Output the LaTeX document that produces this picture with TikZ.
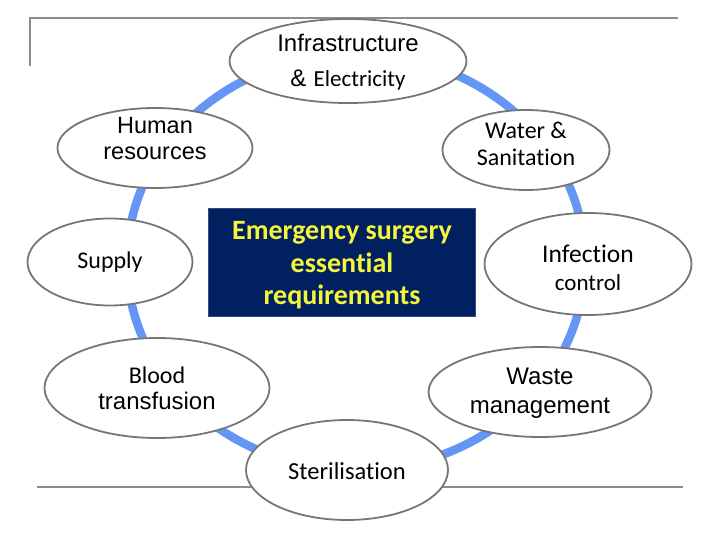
\documentclass[tikz,border=0pt]{standalone}
\usepackage{fontspec}
\usepackage{tikz}
\usetikzlibrary{shapes.geometric, positioning}
\newfontfamily\arialfont{Liberation Sans}
\newfontfamily\calfont{Carlito}[Ligatures=NoCommon]
\definecolor{ringblue}{RGB}{102,150,245}
\definecolor{rimgrey}{RGB}{118,118,118}
\definecolor{linegrey}{RGB}{140,140,140}
\definecolor{boxnavy}{RGB}{0,32,96}
\definecolor{boxyellow}{RGB}{245,245,60}
\tikzset{
  topic/.style={ellipse, draw=rimgrey, fill=white, line width=1.8pt,
    inner sep=0pt},
  caption/.style={inner sep=0pt, align=center, text=black},
  corebox/.style={rectangle, draw=boxnavy!80!white, fill=boxnavy, line width=0.8pt,
    minimum width=267pt, minimum height=108pt},
  coretext/.style={caption, text=boxyellow,
    font=\calfont\bfseries\fontsize{28}{32.5}\selectfont},
  ring/.style={draw=ringblue, line width=8.5pt},
  rule/.style={draw=linegrey, line width=2pt}
}
\begin{document}
\begin{tikzpicture}[x=1pt, y=-1pt]
  \useasboundingbox (0,0) rectangle (720,540);
  % frame lines
  \coordinate (tl) at (30,18);
  \coordinate (tr) at (678,18);
  \coordinate (lb) at (30,66);
  \coordinate (bl) at (37,487);
  \coordinate (br) at (683,487);
  \draw[rule] (lb) -- (tl) -- (tr);
  \draw[rule] (bl) -- (br);

  % ring behind the topics
  \coordinate (hub) at (356,262);
  \draw[ring] (hub) ellipse [x radius=229, y radius=208];

  \node[corebox] (core) at (342,262) {};
  \node[coretext] (coretxt) at ([yshift=-3.5pt]core.center)
    {Emergency surgery\\essential\\requirements};

  % topic ellipses
  \node[topic, minimum width=237pt, minimum height=84pt] (infra) at (348,61) {};
  \node[topic, minimum width=195pt, minimum height=80pt] (human) at (155,148) {};
  \node[topic, minimum width=167pt, minimum height=80pt] (water) at (526,150) {};
  \node[topic, minimum width=165pt, minimum height=87pt] (supply) at (110,262) {};
  \node[topic, minimum width=207pt, minimum height=102pt] (infect) at (588,264) {};
  \node[topic, minimum width=225pt, minimum height=100pt] (blood) at (157,388) {};
  \node[topic, minimum width=223pt, minimum height=90pt] (waste) at (540,392) {};
  \node[topic, minimum width=202pt, minimum height=100pt] (steril) at (347,470) {};

  % their texts
  \node[caption, font=\fontsize{24}{35}\selectfont] (infratxt) at ([yshift=-1.5pt]infra.center)
    {{\arialfont Infrastructure}\\{\arialfont\&} {\calfont\fontsize{23}{35}\selectfont Electricity}};
  \node[caption, font=\arialfont\fontsize{23.5}{26}\selectfont] (humantxt) at ([yshift=9pt]human.center)
    {Human\\resources};
  \node[caption, font=\calfont\fontsize{24}{27}\selectfont] (watertxt) at ([yshift=6.5pt]water.center)
    {Water \&\\Sanitation};
  \node[caption, font=\calfont\fontsize{24}{27}\selectfont] (supplytxt) at (supply.center) {Supply};
  \node[caption, font=\calfont\fontsize{25.5}{28}\selectfont] (infecttxt) at ([yshift=-4pt]infect.center)
    {Infection\\{\fontsize{23}{28}\selectfont control}};
  \node[caption, font=\fontsize{24}{26}\selectfont] (bloodtxt) at (blood.center)
    {{\calfont Blood}\\{\arialfont transfusion}};
  \node[caption, font=\arialfont\fontsize{24}{29}\selectfont] (wastetxt) at ([yshift=-1.5pt]waste.center)
    {Waste\\management};
  \node[caption, font=\calfont\fontsize{24.5}{27}\selectfont] (steriltxt) at ([yshift=-1pt]steril.center)
    {Sterilisation};
\end{tikzpicture}
\end{document}
